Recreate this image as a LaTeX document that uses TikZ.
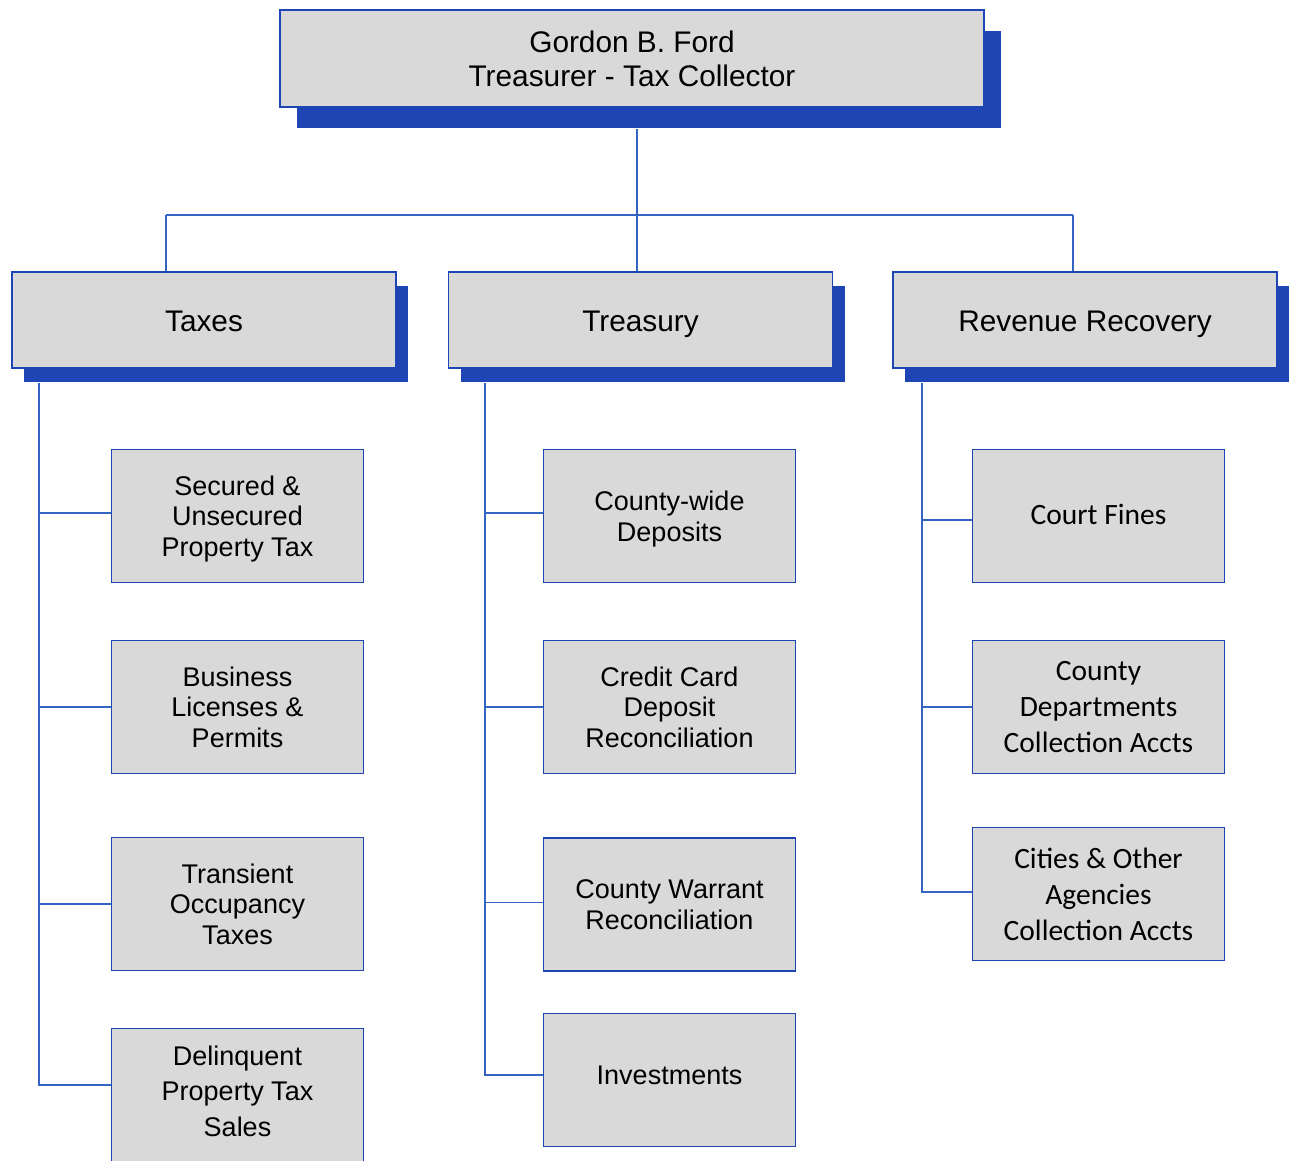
\documentclass[tikz,border=0pt]{standalone}
\usepackage{fontspec}
\setmainfont{Liberation Sans}
\newfontfamily\calibrifont{Carlito}
\definecolor{orgblue}{HTML}{1F45B5}
\definecolor{lineblue}{HTML}{3563C4}
\definecolor{boxgray}{HTML}{D9D9D9}
\usetikzlibrary{shadows,positioning}

\begin{document}
\begin{tikzpicture}[x=1pt,y=-1pt,
  headbox/.style={draw=orgblue,fill=boxgray,line width=1.5pt,minimum width=704pt,minimum height=97pt,
    align=center,font=\fontsize{29.8}{34}\selectfont,
    drop shadow={shadow xshift=17pt,shadow yshift=-21pt,fill=orgblue,opacity=1}},
  deptbox/.style={draw=orgblue,fill=boxgray,line width=1.5pt,minimum width=384pt,minimum height=96pt,
    align=center,font=\fontsize{29.8}{34}\selectfont,text height=26pt,text depth=4pt,
    drop shadow={shadow xshift=12pt,shadow yshift=-14pt,fill=orgblue,opacity=1}},
  unitbox/.style={draw=orgblue,fill=boxgray,line width=1.5pt,minimum width=252pt,minimum height=133pt,
    align=center,font=\fontsize{27}{30.5}\selectfont},
  calbox/.style={unitbox,font=\calibrifont\fontsize{29.5}{36}\selectfont},
  link/.style={draw=lineblue,line width=1.6pt}]
  \useasboundingbox (0,0) rectangle (1289,1160);
  % Head of office
  \node[headbox] (head) at (632,58.5) {Gordon B. Ford\\Treasurer - Tax Collector};
  % Divisions
  \node[deptbox] (taxes) at (204,320) {Taxes};
  \node[deptbox] (treasury) at (640.5,320) {Treasury};
  \node[deptbox] (revenue) at (1085,320) {Revenue Recovery};
  % Taxes units
  \node[unitbox,text depth=0pt] (secured) at (237.5,516) {Secured \&\\Unsecured\\Property Tax};
  \node[unitbox] (business) at (237.5,707) {Business\\Licenses \&\\Permits};
  \node[unitbox] (transient) at (237.5,904) {Transient\\Occupancy\\Taxes};
  \node[unitbox,font=\fontsize{27}{35.5}\selectfont,text depth=8pt] (delinquent) at (237.5,1095) {Delinquent\\Property Tax\\Sales};
  % Treasury units
  \node[unitbox,text depth=0pt] (deposits) at (669.5,516) {County-wide\\Deposits};
  \node[unitbox] (creditcard) at (669.5,707) {Credit Card\\Deposit\\Reconciliation};
  \node[unitbox] (warrant) at (669.5,904.5) {County Warrant\\Reconciliation};
  \node[unitbox,text depth=10pt] (investments) at (669.5,1080) {Investments};
  % Revenue Recovery units
  \node[calbox,text depth=4pt] (fines) at (1098.5,516) {Court Fines};
  \node[calbox] (countyaccts) at (1098.5,707) {County\\Departments\\Collection Accts};
  \node[calbox] (cityaccts) at (1098.5,894) {Cities \& Other\\Agencies\\Collection Accts};
  % Top bus
  \coordinate (bus) at (637,215);
  \coordinate (busL) at (166,215);
  \coordinate (busR) at (1073,215);
  \draw[link] ([yshift=-21pt]head.south -| bus) -- (bus);
  \draw[link] (busL) -- (busR);
  \draw[link] (busL) -- (busL |- taxes.north);
  \draw[link] (bus) -- (bus |- treasury.north);
  \draw[link] (busR) -- (busR |- revenue.north);
  % Trunks
  \coordinate (taxtrunk) at (39,383);
  \coordinate (treastrunk) at (485,383);
  \coordinate (revtrunk) at (922,383);
  \draw[link] (taxtrunk) |- ([yshift=10pt]delinquent.west);
  \draw[link] (taxtrunk |- secured.west) ++(0,-3) -- ([yshift=3pt]secured.west);
  \draw[link] (taxtrunk |- business.west) -- (business.west);
  \draw[link] (taxtrunk |- transient.west) -- (transient.west);
  \draw[link] (treastrunk) |- ([yshift=5pt]investments.west);
  \draw[link] (treastrunk |- deposits.west) ++(0,-3) -- ([yshift=3pt]deposits.west);
  \draw[link] (treastrunk |- creditcard.west) -- (creditcard.west);
  \draw[link] (treastrunk |- warrant.west) ++(0,-2) -- ([yshift=2pt]warrant.west);
  \draw[link] (revtrunk) |- ([yshift=2pt]cityaccts.west);
  \draw[link] (revtrunk |- fines.west) ++(0,4) -- ([yshift=-4pt]fines.west);
  \draw[link] (revtrunk |- countyaccts.west) -- (countyaccts.west);
\end{tikzpicture}
\end{document}
